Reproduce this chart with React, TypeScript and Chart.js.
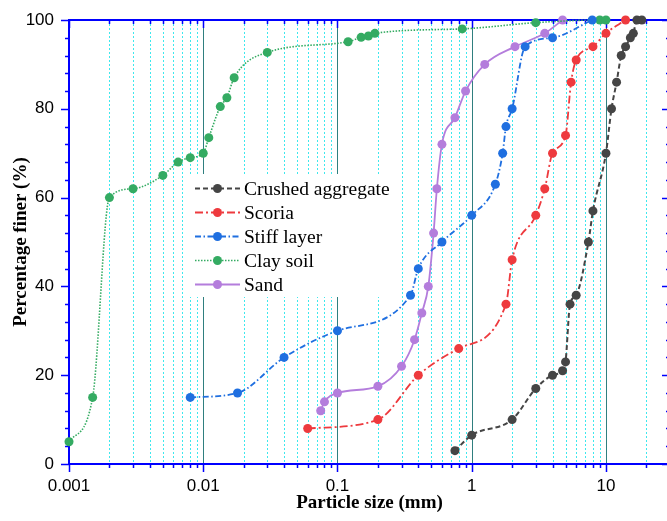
import React, { useEffect, useRef } from "react";
import { Chart, registerables } from "chart.js";

Chart.register(...registerables);

// ---- data (particle size in mm, percentage finer in %) ----
const seriesNames = ["Crushed aggregate", "Scoria", "Stiff layer", "Clay soil", "Sand"];

const crushedSize = [0.75, 1, 2, 3, 4, 4.75, 5, 5.4, 6, 7.4, 8, 10, 11, 12, 13, 14, 15.2, 16, 17, 18.5];
const crushedFiner = [3, 6.5, 10, 17, 20, 21, 23, 36, 38, 50, 57, 70, 80, 86, 92, 94, 96, 97, 100, 100];

const scoriaSize = [0.06, 0.2, 0.4, 0.8, 1.8, 2, 3, 3.5, 4, 5, 5.5, 6, 8, 10, 14];
const scoriaFiner = [8, 10, 20, 26, 36, 46, 56, 62, 70, 74, 86, 91, 94, 97, 100];

const stiffSize = [0.008, 0.018, 0.04, 0.1, 0.35, 0.4, 0.6, 1, 1.5, 1.7, 1.8, 2, 2.5, 4, 7.9];
const stiffFiner = [15, 16, 24, 30, 38, 44, 50, 56, 63, 70, 76, 80, 94, 96, 100];

const claySize = [0.001, 0.0015, 0.002, 0.003, 0.005, 0.0065, 0.008, 0.01, 0.011, 0.0134, 0.015, 0.017, 0.03, 0.12, 0.15, 0.17, 0.19, 0.85, 3, 9, 10];
const clayFiner = [5, 15, 60, 62, 65, 68, 69, 70, 73.5, 80.5, 82.5, 87, 92.7, 95.1, 96.1, 96.4, 97, 98, 99.4, 100, 100];

const sandSize = [0.075, 0.08, 0.1, 0.2, 0.3, 0.375, 0.425, 0.475, 0.52, 0.55, 0.6, 0.75, 0.9, 1.25, 2.1, 3.5, 4.75];
const sandFiner = [12, 14, 16, 17.5, 22, 28, 34, 40, 52, 62, 72, 78, 84, 90, 94, 97, 100];

const xTickValues = [0.001, 0.01, 0.1, 1, 10];
const xMin = 0.001;
const xMax = 30;
const yTickStep = 20;
const yMinorStep = 4;

// ---- styles ----
const seriesColors = ["#454545", "#ee3a3e", "#1f6fe0", "#34ab62", "#b47ddc"];
const seriesDashes: number[][] = [[5, 3], [8, 3, 2, 3], [6, 2.5, 1.5, 2.5], [1.5, 1.5], []];
const seriesWidths = [2, 1.8, 1.8, 1.6, 1.8];

const AXIS_BLUE = "#0000ff";
const GRID_CYAN = "#3ee8ee";
const GRID_TEAL = "#2f7f7f";

function pts(xs: number[], ys: number[]) {
  return xs.map((x, i) => ({ x, y: ys[i] }));
}

function minorXValues(): number[] {
  const out: number[] = [];
  for (const d of xTickValues) {
    for (let k = 2; k <= 9; k++) {
      const v = Number((k * d).toPrecision(3));
      if (v <= xMax) out.push(v);
    }
  }
  return out;
}

const framePlugin = {
  id: "frame",
  beforeDatasetsDraw(chart: any) {
    const { ctx, chartArea: a, scales } = chart;
    const xs = scales.x;
    const ys = scales.y;
    ctx.save();

    // vertical grid lines
    ctx.lineWidth = 1;
    ctx.strokeStyle = GRID_CYAN;
    ctx.setLineDash([2, 2]);
    for (const v of minorXValues()) {
      const px = Math.round(xs.getPixelForValue(v)) + 0.5;
      ctx.beginPath();
      ctx.moveTo(px, a.top);
      ctx.lineTo(px, a.bottom);
      ctx.stroke();
    }
    ctx.setLineDash([]);
    ctx.strokeStyle = GRID_TEAL;
    for (const v of xTickValues) {
      if (v <= xMin) continue;
      const px = Math.round(xs.getPixelForValue(v)) + 0.5;
      ctx.beginPath();
      ctx.moveTo(px, a.top);
      ctx.lineTo(px, a.bottom);
      ctx.stroke();
    }

    // legend box (white, hides grid)
    const lx = 190, ly = 174, lw = 202, lh = 123;
    ctx.fillStyle = "#ffffff";
    ctx.fillRect(lx, ly, lw, lh);
    const ds = chart.data.datasets;
    ctx.font = "19.5px 'Liberation Serif', 'Times New Roman', serif";
    ctx.textBaseline = "middle";
    ctx.textAlign = "left";
    for (let i = 0; i < ds.length; i++) {
      const cy = 188.5 + i * 24;
      ctx.strokeStyle = ds[i].borderColor;
      ctx.lineWidth = ds[i].borderWidth;
      ctx.setLineDash(ds[i].borderDash || []);
      ctx.beginPath();
      ctx.moveTo(195, cy);
      ctx.lineTo(240, cy);
      ctx.stroke();
      ctx.setLineDash([]);
      ctx.fillStyle = ds[i].pointBackgroundColor;
      ctx.beginPath();
      ctx.arc(217.5, cy, 4.5, 0, Math.PI * 2);
      ctx.fill();
      ctx.fillStyle = "#000";
      ctx.fillText(ds[i].label, 244, cy + 1);
    }

    // axes frame
    ctx.strokeStyle = AXIS_BLUE;
    ctx.lineWidth = 2;
    ctx.beginPath();
    ctx.rect(a.left, a.top, a.right - a.left, a.bottom - a.top);
    ctx.stroke();

    // x ticks (bottom outward, top inward)
    ctx.lineWidth = 1.5;
    const majorLen = 8, minorLen = 4;
    const drawX = (v: number, len: number) => {
      const px = Math.round(xs.getPixelForValue(v)) + 0.5;
      ctx.beginPath();
      ctx.moveTo(px, a.bottom);
      ctx.lineTo(px, a.bottom + len);
      ctx.moveTo(px, a.top);
      ctx.lineTo(px, a.top + len);
      ctx.stroke();
    };
    for (const v of xTickValues) drawX(v, majorLen);
    for (const v of minorXValues()) drawX(v, minorLen);

    // y ticks (left outward, right inward)
    for (let v = 0; v <= 100; v += yMinorStep) {
      const len = v % yTickStep === 0 ? majorLen : minorLen;
      const py = Math.round(ys.getPixelForValue(v)) + 0.5;
      ctx.beginPath();
      ctx.moveTo(a.left, py);
      ctx.lineTo(a.left - len, py);
      ctx.moveTo(a.right, py);
      ctx.lineTo(a.right - len, py);
      ctx.stroke();
    }
    ctx.restore();
  },
};

export default function App() {
  const ref = useRef<HTMLCanvasElement | null>(null);

  useEffect(() => {
    const canvas = ref.current;
    if (!canvas) return;
    const sizes = [crushedSize, scoriaSize, stiffSize, claySize, sandSize];
    const finers = [crushedFiner, scoriaFiner, stiffFiner, clayFiner, sandFiner];
    const datasets = seriesNames.map((name, i) => ({
      label: name,
      data: pts(sizes[i], finers[i]),
      borderColor: seriesColors[i],
      backgroundColor: seriesColors[i],
      pointBackgroundColor: seriesColors[i],
      pointBorderWidth: 0,
      pointRadius: 4.5,
      borderWidth: seriesWidths[i],
      borderDash: seriesDashes[i],
      cubicInterpolationMode: "monotone" as const,
      tension: 0.4,
      fill: false,
      clip: false as const,
    }));

    const chart = new Chart(canvas, {
      type: "line",
      data: { datasets },
      plugins: [framePlugin],
      options: {
        animation: false,
        responsive: false,
        devicePixelRatio: 1,
        layout: { padding: { top: 20, right: 10, left: 0, bottom: 0 } },
        plugins: { legend: { display: false }, tooltip: { enabled: false } },
        scales: {
          x: {
            type: "logarithmic",
            min: xMin,
            max: xMax,
            afterBuildTicks: (s: any) => {
              s.ticks = xTickValues.map((v) => ({ value: v }));
            },
            afterFit: (s: any) => {
              s.height = 57;
              s.paddingLeft = 0;
              s.paddingRight = 0;
            },
            grid: { display: false, drawTicks: false },
            border: { display: false },
            ticks: {
              callback: (v: any) => String(v),
              color: "#000",
              font: { family: "'Liberation Sans', Arial, sans-serif", size: 17 },
              padding: 12,
              maxRotation: 0,
              autoSkip: false,
            },
            title: {
              display: true,
              text: "Particle size (mm)",
              color: "#000",
              font: { family: "'Liberation Serif', 'Times New Roman', serif", size: 19, weight: "bold" },
              padding: { top: 0, bottom: 7 },
            },
          },
          y: {
            type: "linear",
            min: 0,
            max: 100,
            afterFit: (s: any) => {
              s.width = 69;
              s.paddingTop = 0;
              s.paddingBottom = 0;
            },
            grid: { display: false, drawTicks: false },
            border: { display: false },
            ticks: {
              stepSize: yTickStep,
              color: "#000",
              font: { family: "'Liberation Sans', Arial, sans-serif", size: 17 },
              padding: 15,
            },
            title: {
              display: true,
              text: "Percentage finer (%)",
              color: "#000",
              font: { family: "'Liberation Serif', 'Times New Roman', serif", size: 19, weight: "bold" },
              padding: { top: 10, bottom: 0 },
            },
          },
        },
      },
    });
    return () => chart.destroy();
  }, []);

  return (
    <div
      style={{
        position: "fixed",
        left: 0,
        top: 0,
        width: 667,
        height: 521,
        overflow: "hidden",
        background: "#fff",
      }}
    >
      <canvas ref={ref} width={680} height={521} style={{ display: "block", width: 680, height: 521 }} />
    </div>
  );
}
